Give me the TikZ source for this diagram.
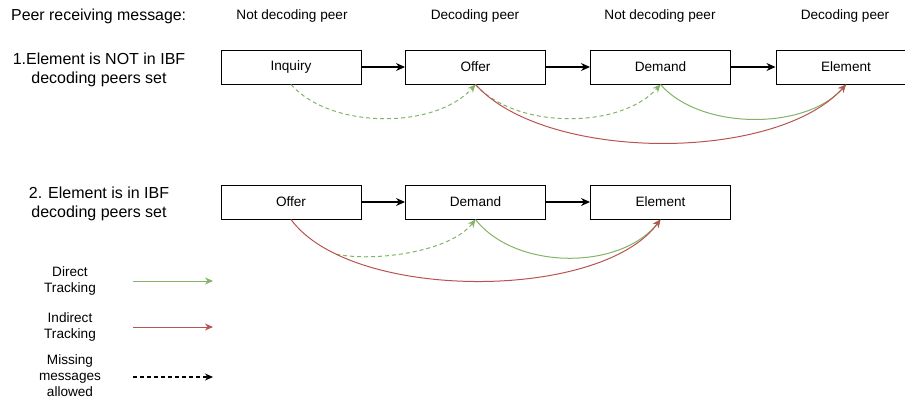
\documentclass[tikz,border=0pt]{standalone}
\usepackage{fontspec}
\setmainfont{Liberation Sans}
\usetikzlibrary{arrows.meta}
\definecolor{dgreen}{HTML}{82B366}
\definecolor{dred}{HTML}{B85450}
\tikzset{
  msgbox/.style={draw=black, line width=1pt, minimum width=140pt, minimum height=34pt, inner sep=0pt, font=\fontsize{13.6}{16}\selectfont},
  hdr/.style={font=\fontsize{13.6}{16}\selectfont, inner sep=0pt},
  sidelbl/.style={font=\fontsize{16}{18.5}\selectfont, align=center, inner sep=0pt},
  leglbl/.style={font=\fontsize{13.6}{16}\selectfont, align=center, inner sep=0pt},
  flow/.style={line width=1.1pt, -{Stealth[length=9pt,width=8pt]}},
  direct/.style={draw=dgreen, line width=1pt, -{Stealth[length=8pt,width=7pt]}},
  indirect/.style={draw=dred, line width=1pt, -{Stealth[length=8pt,width=7pt]}},
  missing/.style={dashed, dash pattern=on 4pt off 3pt},
}
\begin{document}
\begin{tikzpicture}[x=1pt,y=-1pt]
\useasboundingbox (0,0) rectangle (905,402);
% headers
\node[hdr, anchor=west, font=\fontsize{15.9}{18}\selectfont] (h0) at (11,16) {Peer receiving message:};
\node[hdr] (h1) at (292,16) {Not decoding peer};
\node[hdr] (h2) at (475,16) {Decoding peer};
\node[hdr] (h3) at (660,16) {Not decoding peer};
\node[hdr] (h4) at (845,16) {Decoding peer};
% row 1
\node[sidelbl] (l1) at (99,70) {1.Element is NOT in IBF\\decoding peers set};
\node[msgbox] (a1) at (291,67) {Inquiry};
\node[msgbox] (a2) at (475.5,67) {Offer};
\node[msgbox] (a3) at (660.5,67) {Demand};
\node[msgbox] (a4) at (846,67) {Element};
\draw[flow] (a1) -- (a2);
\draw[flow] (a2) -- (a3);
\draw[flow] (a3) -- (a4);
\draw[direct, missing] (a1.south) .. controls +(40,45) and +(-40,45) .. (a2.south);
\draw[direct, missing] (a2.south) .. controls +(40,45) and +(-40,45) .. (a3.south);
\draw[direct] (a3.south) .. controls +(40,46) and +(-40,46) .. (a4.south);
\draw[indirect] (a2.south) .. controls +(70,78) and +(-70,78) .. (a4.south);
% row 2
\node[sidelbl] (l2) at (99,204) {2. Element is in IBF\\decoding peers set};
\node[msgbox] (b1) at (291,202) {Offer};
\node[msgbox] (b2) at (475.5,202) {Demand};
\node[msgbox] (b3) at (660.5,202) {Element};
\draw[flow] (b1) -- (b2);
\draw[flow] (b2) -- (b3);
\draw[direct] (b2.south) .. controls +(40,51) and +(-40,51) .. (b3.south);
\path (b1.south) .. controls +(60,82) and +(-60,82) .. coordinate[pos=0.17] (r2) (b3.south);
\draw[direct, missing] (r2) .. controls (375,262) and (450,252) .. (b2.south);
\draw[indirect] (b1.south) .. controls +(60,82) and +(-60,82) .. (b3.south);
% legend
\node[leglbl] (k1) at (70,281) {Direct\\Tracking};
\coordinate (k1a) at (133,281);
\coordinate (k1b) at (213,281);
\draw[direct] (k1a) -- (k1b);
\node[leglbl] (k2) at (70,327) {Indirect\\Tracking};
\coordinate (k2a) at (133,327);
\coordinate (k2b) at (213,327);
\draw[indirect] (k2a) -- (k2b);
\node[leglbl] (k3) at (70,376) {Missing\\messages\\allowed};
\coordinate (k3a) at (133,377);
\coordinate (k3b) at (213,377);
\draw[line width=1.1pt, missing, -{Stealth[length=8pt,width=7pt]}] (k3a) -- (k3b);
\end{tikzpicture}
\end{document}
